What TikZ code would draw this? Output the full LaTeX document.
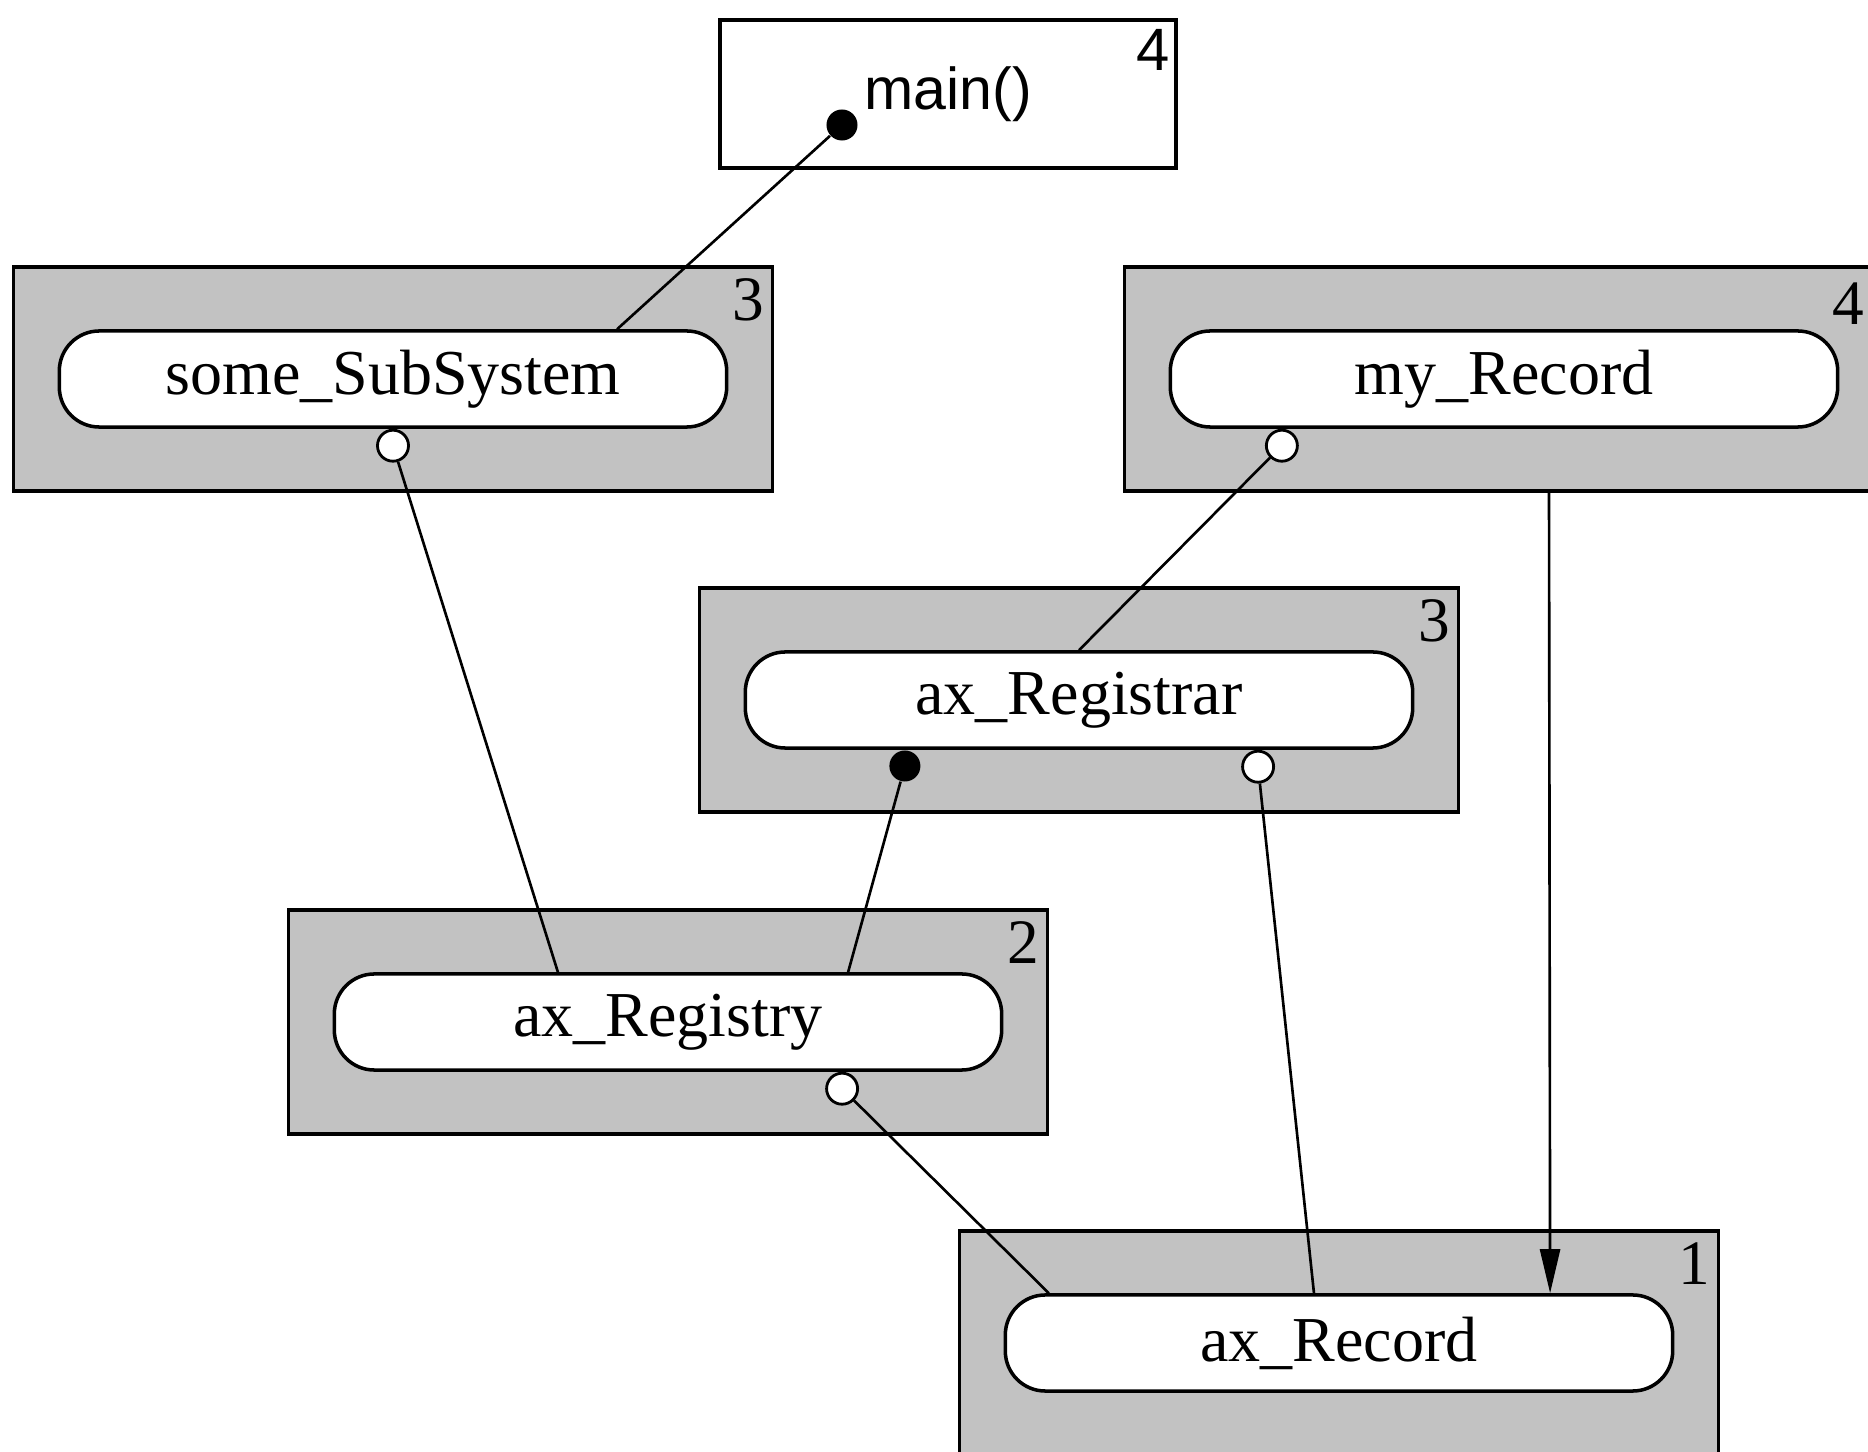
\documentclass[tikz,border=0pt]{standalone}
\usepackage{fontspec}
\setmainfont{Liberation Serif}
\setsansfont{Liberation Sans}
\usetikzlibrary{
  arrows.meta,
  positioning,
  calc
}
\definecolor{dpgray}{gray}{0.76}

\begin{document}
\begin{tikzpicture}[
      x=0.01cm, y=-0.01cm,
      group/.style={
        rectangle, minimum width=7.59cm, minimum height=2.24cm,
        draw=black, line width=0.9pt, fill=dpgray
      },
      comp/.style={
        rectangle, rounded corners=0.4cm,
        minimum width=6.67cm, minimum height=0.96cm,
        draw=black, line width=1pt, fill=white,
        font=\fontsize{18.2}{22}\selectfont
      },
      level/.style={font=\fontsize{18}{20}\selectfont, inner sep=0pt, anchor=north east},
      hollow/.style={circle, draw=black, line width=0.8pt, fill=white, minimum size=0.31cm, inner sep=0pt},
      filled/.style={circle, fill=black, minimum size=0.31cm, inner sep=0pt},
      link/.style={line width=0.75pt},
      arrow/.style={-{Triangle[length=0.44cm, width=0.2cm]}, line width=0.75pt}
    ]
      \useasboundingbox (0,0) rectangle (1868,1452);
      \clip (0,0) rectangle (1868,1452);

      % main()
      \node[draw, line width=1.1pt, minimum width=4.55cm, minimum height=1.48cm,
        font=\sffamily\fontsize{16.8}{19}\selectfont] (main) at (948,94) {main()};
      \node[level, font=\sffamily\fontsize{17}{19}\selectfont] at ([xshift=-0.07cm, yshift=-0.11cm]main.north east) {4};
      \node[filled] (mainCall) at (842,125) {};

      % some_SubSystem
      \node[group] (subGrp) at (393,379) {};
      \node[comp] (sub) at (subGrp) {some\_SubSystem};
      \node[level] at ([xshift=-0.09cm, yshift=-0.13cm]subGrp.north east) {3};
      \node[hollow, anchor=north] (subUse) at (sub.south) {};

      % my_Record
      \node[group] (recGrp) at (1504,379) {};
      \node[comp] (myRec) at (recGrp) {my\_Record};
      \node[level] at ([xshift=-0.2cm, yshift=-0.17cm]recGrp.north east) {4};
      \node[hollow, anchor=north] (myRecUse) at ([xshift=-2.22cm]myRec.south) {};

      % ax_Registrar
      \node[group] (regrGrp) at (1079,700) {};
      \node[comp] (regr) at (regrGrp) {ax\_Registrar};
      \node[level] at ([xshift=-0.09cm, yshift=-0.13cm]regrGrp.north east) {3};
      \node[filled, anchor=north] (regrOwn) at ([xshift=-1.74cm]regr.south) {};
      \node[hollow, anchor=north] (regrUse) at ([xshift=1.79cm]regr.south) {};

      % ax_Registry
      \node[group] (regyGrp) at (668,1022) {};
      \node[comp] (regy) at (regyGrp) {ax\_Registry};
      \node[level] at ([xshift=-0.09cm, yshift=-0.13cm]regyGrp.north east) {2};
      \node[hollow, anchor=north] (regyUse) at ([xshift=1.74cm]regy.south) {};

      % ax_Record
      \node[group] (recBase) at (1339,1343) {};
      \node[comp] (rec) at (recBase) {ax\_Record};
      \node[level] at ([xshift=-0.09cm, yshift=-0.13cm]recBase.north east) {1};

      % Links
      \draw[link] (mainCall) -- ([xshift=2.24cm]sub.north);
      \draw[link] (subUse) -- ([xshift=-1.1cm]regy.north);
      \draw[link] (myRecUse) -- (regr.north);
      \draw[link] (regrOwn) -- ([xshift=1.8cm]regy.north);
      \draw[link] (regrUse) -- ([xshift=-0.25cm]rec.north);
      \draw[link] (regyUse) -- ([xshift=-2.9cm]rec.north);

      % Arrow
      \draw[arrow] ([xshift=0.45cm]recGrp.south) -- ([xshift=2.11cm]rec.north);
    \end{tikzpicture}
\end{document}
